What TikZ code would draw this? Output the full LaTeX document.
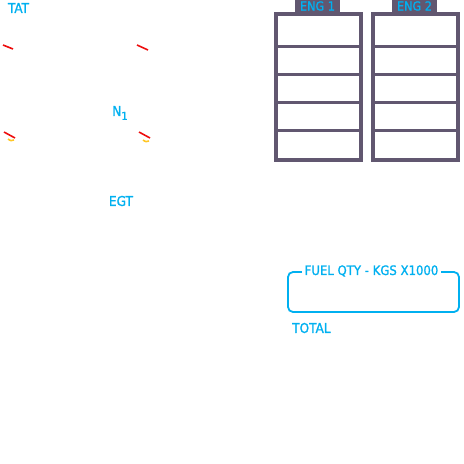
\documentclass[tikz,border=0pt]{standalone}
\usepackage{fontspec}
\usepackage{tikz}
\usetikzlibrary{positioning}
\newfontfamily\ecamfont{DejaVu Sans Condensed}[FakeBold=1.2]
\definecolor{ecamcyan}{rgb}{0.00,0.69,0.94}
\definecolor{ecamframe}{rgb}{0.38,0.34,0.44}
\definecolor{ecamred}{rgb}{0.93,0.05,0.05}
\definecolor{ecamamber}{rgb}{1.00,0.78,0.15}
\tikzstyle{ecamlabel}=[text=ecamcyan, inner sep=0pt, font=\ecamfont\fontsize{13.5}{13.5}\selectfont]
\tikzstyle{engframe}=[rectangle, draw=ecamframe, line width=4pt, minimum width=85pt, minimum height=146pt, inner sep=0pt]
\tikzstyle{engtab}=[rectangle, fill=ecamframe, text=ecamcyan, minimum width=45pt, minimum height=12pt, inner sep=0pt, font=\ecamfont\fontsize{12.5}{12.5}\selectfont]
\tikzstyle{engrow}=[draw=ecamframe, line width=3pt]
\tikzstyle{redtick}=[draw=ecamred, line width=1.6pt]
\tikzstyle{ambertick}=[draw=ecamamber, line width=1.6pt]
\tikzstyle{fuelbox}=[rectangle, rounded corners=5pt, draw=ecamcyan, line width=1.8pt, minimum width=171pt, minimum height=40pt, inner sep=0pt]

\begin{document}
\begin{tikzpicture}[x=1pt,y=-1pt]
	\useasboundingbox (0,0) rectangle (464,464);
	
	% labels
	\node[ecamlabel] (tat) at (18.5,8) {TAT};
	\node[ecamlabel] (n1) at (120,113) {N\raisebox{-4pt}{\fontsize{11}{11}\selectfont 1}};
	\node[ecamlabel] (egt) at (121,201) {EGT};
	
	% scale ticks
	\draw[redtick] (3,45) -- (13,49);
	\draw[redtick] (137,45) -- (148,50);
	\draw[redtick] (4,132) -- (15,138);
	\draw[redtick] (139,132) -- (150,138);
	\draw[ambertick] (8,139) .. controls (11,141) .. (14,140);
	\draw[ambertick] (143,140) .. controls (146,142) .. (149,141);
	
	% engine columns
	\node[engframe] (eng1) at (318.5,87) {};
	\node[engframe] (eng2) at (415.5,87) {};
	\foreach \k in {46.2,74.4,102.6,130.8} {
		\draw[engrow] (276,\k) -- (361,\k);
		\draw[engrow] (373,\k) -- (458,\k);
	}
	\node[engtab] (tab1) at (317.5,6) {ENG 1};
	\node[engtab] (tab2) at (414.5,6) {ENG 2};
	
	% fuel quantity
	\node[fuelbox] (fuel) at (373.5,292) {};
	\node[ecamlabel, fill=white, inner xsep=3pt, font=\ecamfont\fontsize{13}{13}\selectfont] (fueltitle) at (371.5,271) {FUEL QTY - KGS X1000};
	\node[ecamlabel, anchor=west] (total) at (292,328) {TOTAL};
\end{tikzpicture}
\end{document}
